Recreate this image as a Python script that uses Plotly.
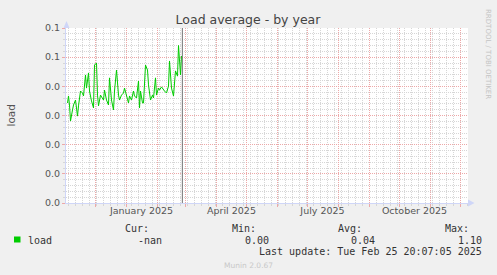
import plotly.graph_objects as go

# ---------------- data ----------------
dates = [
    "2024-11-03", "2024-11-04", "2024-11-05", "2024-11-06", "2024-11-08", "2024-11-09",
    "2024-11-11", "2024-11-13", "2024-11-14", "2024-11-16", "2024-11-18", "2024-11-19",
    "2024-11-21", "2024-11-22", "2024-11-24", "2024-11-25", "2024-11-27", "2024-11-29",
    "2024-11-30", "2024-12-02", "2024-12-03", "2024-12-04", "2024-12-06", "2024-12-09",
    "2024-12-10", "2024-12-12", "2024-12-14", "2024-12-15", "2024-12-17", "2024-12-19",
    "2024-12-20", "2024-12-22", "2024-12-24", "2024-12-25", "2024-12-27", "2024-12-29",
    "2024-12-30", "2025-01-02", "2025-01-03", "2025-01-04", "2025-01-06", "2025-01-08",
    "2025-01-09", "2025-01-11", "2025-01-13", "2025-01-14", "2025-01-15", "2025-01-17",
    "2025-01-18", "2025-01-20", "2025-01-22", "2025-01-23", "2025-01-25", "2025-01-27",
    "2025-01-28", "2025-01-30", "2025-01-31", "2025-02-02", "2025-02-03", "2025-02-05",
    "2025-02-07", "2025-02-08", "2025-02-10", "2025-02-12", "2025-02-13", "2025-02-15",
    "2025-02-17", "2025-02-18", "2025-02-19", "2025-02-21", "2025-02-22", "2025-02-24",
    "2025-02-25",
]
load = [
    0.0343, 0.0367, 0.0336, 0.0281, 0.0319, 0.0336,
    0.0353, 0.0298, 0.0333, 0.0384, 0.0377, 0.0367,
    0.0439, 0.0394, 0.0446, 0.0384, 0.0350, 0.0326,
    0.0473, 0.0480, 0.0370, 0.0333, 0.0370, 0.0353,
    0.0387, 0.0353, 0.0336, 0.0429, 0.0353, 0.0319,
    0.0384, 0.0456, 0.0370, 0.0353, 0.0370, 0.0377,
    0.0394, 0.0360, 0.0343, 0.0367, 0.0353, 0.0384,
    0.0367, 0.0360, 0.0418, 0.0326, 0.0384, 0.0343,
    0.0343, 0.0473, 0.0456, 0.0405, 0.0353, 0.0370,
    0.0360, 0.0429, 0.0370, 0.0394, 0.0387, 0.0398,
    0.0387, 0.0384, 0.0377, 0.0401, 0.0487, 0.0394,
    0.0367, 0.0405, 0.0453, 0.0435, 0.0540, 0.0439,
    0.0504,
]
y_tickvals = [0.0, 0.01, 0.02, 0.03, 0.04, 0.05, 0.06]
y_ticktext = ["0.0", "0.0", "0.0", "0.0", "0.0", "0.1", "0.1"]
x_label_dates = ["2025-01-16", "2025-04-16", "2025-07-16", "2025-10-16"]
x_label_text = ["January 2025", "April 2025", "July 2025", "October 2025"]
x_range = ["2024-11-01 12:00", "2025-12-08 12:00"]
y_range = [0, 0.06]
now_time = "2025-02-25 20:07:05"
series_name = "load"
stat_headers = ["Cur:", "Min:", "Avg:", "Max:"]
stat_values = ["-nan", "0.00", "0.04", "1.10"]
title_text = "Load average - by year"
y_title = "load"
last_update = "Last update: Tue Feb 25 20:07:05 2025"
credit = "RRDTOOL / TOBI OETIKER"
version = "Munin 2.0.67"

# ---------------- geometry helpers ----------------
W, H = 497, 275
L, R, T, B = 66, 468, 28, 203


def px(x):
    return (x - L) / (R - L)


def py(y):
    return (B - y) / (B - T)


GREEN = "#00CC00"
AXIS = "#CFD6F8"
MGRID = "#EDA8A8"
GRID = "#D6D6D6"
FONT = "#555555"
SANS = "DejaVu Sans"
MONO = "DejaVu Sans Mono"

fig = go.Figure()
fig.add_trace(go.Scatter(
    x=dates, y=load, mode="lines", line=dict(color=GREEN, width=1),
    showlegend=False, hoverinfo="skip"))
# helper trace so that the label axis is drawn
fig.add_trace(go.Scatter(
    x=[x_label_dates[0]], y=[0], xaxis="x2", mode="markers",
    marker=dict(opacity=0), showlegend=False, hoverinfo="skip"))

fig.update_layout(
    width=W, height=H,
    margin=dict(l=L, r=W - R, t=T, b=H - B, pad=0),
    paper_bgcolor="#F0F0F0", plot_bgcolor="#FFFFFF",
    title=dict(text=title_text, xref="container", yref="container",
               x=248 / W, y=1 - 19.5 / H, xanchor="center", yanchor="middle",
               font=dict(family=SANS, size=12.5, color="#444444")),
    xaxis=dict(
        type="date", range=x_range, tickmode="linear", tick0="2024-12-01", dtick="M1",
        showticklabels=False, showgrid=True, gridcolor=MGRID, griddash="1px,1px", gridwidth=1,
        ticks="outside", ticklen=3, tickcolor=MGRID,
        showline=True, linecolor=AXIS, linewidth=1, zeroline=False,
        minor=dict(tickmode="linear", tick0="2024-11-04", dtick=7 * 86400000,
                   showgrid=True, gridcolor=GRID, griddash="1px,1px", gridwidth=1,
                   ticks="outside", ticklen=2, tickcolor=GRID),
    ),
    xaxis2=dict(
        type="date", overlaying="x", matches="x", anchor="y", side="bottom",
        tickmode="array", tickvals=x_label_dates, ticktext=x_label_text,
        showgrid=False, ticks="", showline=False, zeroline=False,
        tickfont=dict(family=SANS, size=9.5, color=FONT),
    ),
    yaxis=dict(
        range=y_range, tickmode="array", tickvals=y_tickvals, ticktext=y_ticktext,
        showgrid=True, gridcolor=MGRID, griddash="1px,1px", gridwidth=1,
        ticks="outside", ticklen=3, tickcolor=MGRID,
        showline=True, linecolor=AXIS, linewidth=1, zeroline=False,
        tickfont=dict(family=SANS, size=9.5, color=FONT),
        minor=dict(tickmode="linear", tick0=0, dtick=0.002,
                   showgrid=True, gridcolor=GRID, griddash="1px,1px", gridwidth=1,
                   ticks="outside", ticklen=2, tickcolor=GRID),
    ),
)

shapes = [
    # "now" marker
    dict(type="line", xref="x", yref="paper", x0=now_time, x1=now_time, y0=0, y1=1,
         line=dict(color="#707070", width=1), layer="above"),
    # axis arrows
    dict(type="path", xref="paper", yref="paper",
         path=f"M {px(63.5)},{py(28)} L {px(66.5)},{py(21)} L {px(69.5)},{py(28)} Z",
         fillcolor=AXIS, line=dict(width=0)),
    dict(type="path", xref="paper", yref="paper",
         path=f"M {px(468)},{py(199.5)} L {px(474.5)},{py(203)} L {px(468)},{py(206.5)} Z",
         fillcolor=AXIS, line=dict(width=0)),
    # legend swatch
    dict(type="rect", xref="paper", yref="paper",
         x0=px(14), x1=px(20.5), y0=py(236.5), y1=py(242.5),
         fillcolor=GREEN, line=dict(width=0)),
]
fig.update_layout(shapes=shapes)

ann = []
ann.append(dict(text=y_title, xref="paper", yref="paper", x=px(10.5), y=py(115),
                textangle=-90, showarrow=False, xanchor="center", yanchor="middle",
                font=dict(family=SANS, size=10.5, color=FONT)))
ann.append(dict(text=credit, xref="paper", yref="paper", x=px(488), y=py(54),
                textangle=90, showarrow=False, xanchor="center", yanchor="middle",
                font=dict(family=SANS, size=7, color="#C4C4C4")))
ann.append(dict(text=series_name, xref="paper", yref="paper", x=px(26), y=py(240),
                showarrow=False, xanchor="left", yanchor="middle",
                font=dict(family=MONO, size=10, color="#333333")))
header_right = [151, 258, 364, 471]
value_right = [164, 271, 377, 484]
for h, v, hx, vx in zip(stat_headers, stat_values, header_right, value_right):
    ann.append(dict(text=h, xref="paper", yref="paper", x=px(hx), y=py(228),
                    showarrow=False, xanchor="right", yanchor="middle",
                    font=dict(family=MONO, size=10, color="#333333")))
    ann.append(dict(text=v, xref="paper", yref="paper", x=px(vx), y=py(240),
                    showarrow=False, xanchor="right", yanchor="middle",
                    font=dict(family=MONO, size=10, color="#333333")))
ann.append(dict(text=last_update, xref="paper", yref="paper", x=px(484), y=py(251.5),
                showarrow=False, xanchor="right", yanchor="middle",
                font=dict(family=MONO, size=10, color="#333333")))
ann.append(dict(text=version, xref="paper", yref="paper", x=px(248), y=py(265),
                showarrow=False, xanchor="center", yanchor="middle",
                font=dict(family=SANS, size=7.5, color="#C8C8C8")))
fig.update_layout(annotations=ann)

fig.write_html("out.html")
